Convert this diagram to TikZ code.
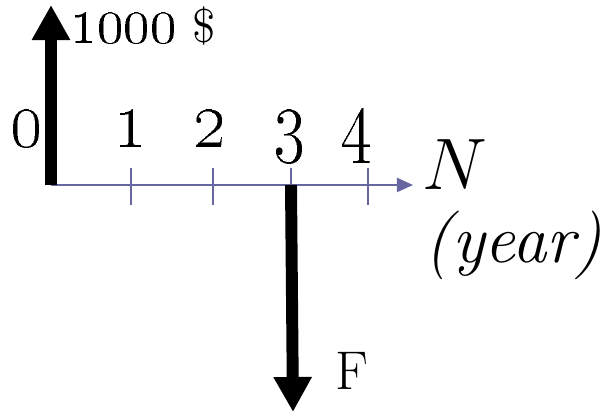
\documentclass[tikz,border=0pt]{standalone}
\usepackage{amsmath}
\usetikzlibrary{arrows.meta}

\definecolor{axisblue}{RGB}{102,102,160}

\tikzset{
  cashflow/.style={line width=3.4pt, -{Triangle[width=0.36cm,length=0.35cm]}},
  timeaxis/.style={axisblue, line width=0.6pt, -{Triangle[width=0.14cm,length=0.16cm]}},
  tick/.style={axisblue, line width=0.5pt},
}
\newcommand{\yearnum}[1]{\scalebox{1.15}[1.4]{\oldstylenums{#1}}}

\begin{document}
\begin{tikzpicture}[x=0.01cm, y=-0.01cm]
    \useasboundingbox (0,0) rectangle (606,413);

    % Time axis
    \coordinate (o) at (51,185);
    \coordinate (axisend) at (413,185);
    \draw[timeaxis] (o) -- (axisend);
    \node[anchor=base west, inner sep=0] (nlabel) at (422,190)
        {\fontsize{19.5}{22}\selectfont $N$};
    \node[anchor=base west, inner sep=0] (yearlabel) at (424,263)
        {\fontsize{19.5}{22}\selectfont\textit{(year)}};

    % Ticks and year numbers
    \node[anchor=base, inner sep=0] (y0) at (27,147)
        {\fontsize{16.5}{18}\selectfont\yearnum{0}};
    \foreach \x/\lx/\n in {131/131/1, 213/210/2, 291/290/3, 368/357/4} {
        \coordinate (t\n) at (\x,185);
        \draw[tick] (\x,168) -- (\x,205);
        \node[anchor=base, inner sep=0] (y\n) at (\lx,147)
            {\fontsize{16.5}{18}\selectfont\yearnum{\n}};
    }

    % Deposit at year 0
    \coordinate (deptop) at (51,5);
    \draw[cashflow] (o) -- (deptop);
    \node[anchor=base west, inner sep=0] (deplabel) at (70,43)
        {\fontsize{13.5}{16}\selectfont\scalebox{1.1}[1.38]{\oldstylenums{1000}} \$};

    % Withdrawal at year 3
    \coordinate (wbottom) at (293,412);
    \draw[cashflow] (t3) -- (wbottom);
    \node[anchor=base west, inner sep=0] (flabel) at (335,390)
        {\fontsize{15.5}{18}\selectfont F};
\end{tikzpicture}
\end{document}
